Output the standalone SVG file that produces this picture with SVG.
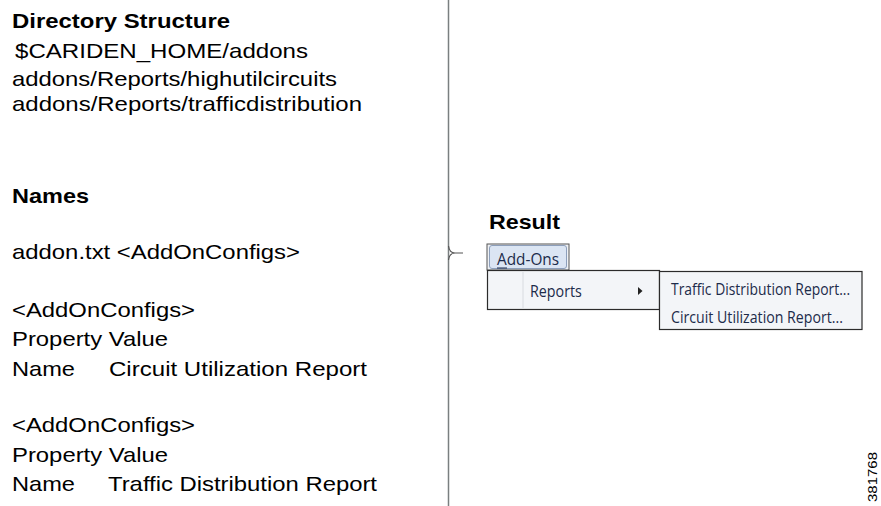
<svg xmlns="http://www.w3.org/2000/svg" width="881" height="506" viewBox="0 0 881 506">
  <style>
    .h { font-family: "Liberation Sans", Arial, sans-serif; font-size: 21px; font-weight: bold; fill: #000; }
    .t { font-family: "Liberation Sans", Arial, sans-serif; font-size: 21px; fill: #000; }
    .m { font-family: "Open Sans", "DejaVu Sans", sans-serif; font-size: 16.5px; fill: #1c2b4a; }
    .panel { fill: #f3f5f8; stroke: #2b2b2b; stroke-width: 1.2; }
  </style>
  <rect width="881" height="506" fill="#ffffff"/>

  <g id="connectors">
    <line x1="448.5" y1="0" x2="448.5" y2="506" stroke="#7a7f80" stroke-width="1.5"/>
    <path d="M448.5,246 Q449.5,253 455,253 L463,253 M448.5,260 Q449.5,253 455,253" fill="none" stroke="#555" stroke-width="1.2"/>
  </g>

  <g id="directory">
    <text class="h" x="12" y="27.5" textLength="218" lengthAdjust="spacingAndGlyphs">Directory Structure</text>
    <text class="t" x="15" y="58" textLength="293" lengthAdjust="spacingAndGlyphs">$CARIDEN_HOME/addons</text>
    <text class="t" x="12" y="86" textLength="325" lengthAdjust="spacingAndGlyphs">addons/Reports/highutilcircuits</text>
    <text class="t" x="12" y="110.5" textLength="350" lengthAdjust="spacingAndGlyphs">addons/Reports/trafficdistribution</text>
  </g>

  <g id="names">
    <text class="h" x="12" y="203" textLength="77" lengthAdjust="spacingAndGlyphs">Names</text>
    <text class="t" x="12" y="259" textLength="288" lengthAdjust="spacingAndGlyphs">addon.txt &lt;AddOnConfigs&gt;</text>
    <text class="t" x="12" y="316.5" textLength="183" lengthAdjust="spacingAndGlyphs">&lt;AddOnConfigs&gt;</text>
    <text class="t" x="12" y="346" textLength="156" lengthAdjust="spacingAndGlyphs">Property Value</text>
    <text class="t" x="12" y="375.5" textLength="63" lengthAdjust="spacingAndGlyphs">Name</text>
    <text class="t" x="109" y="375.5" textLength="258" lengthAdjust="spacingAndGlyphs">Circuit Utilization Report</text>
    <text class="t" x="12" y="432" textLength="183" lengthAdjust="spacingAndGlyphs">&lt;AddOnConfigs&gt;</text>
    <text class="t" x="12" y="461.5" textLength="156" lengthAdjust="spacingAndGlyphs">Property Value</text>
    <text class="t" x="12" y="490.5" textLength="63" lengthAdjust="spacingAndGlyphs">Name</text>
    <text class="t" x="108" y="490.5" textLength="269" lengthAdjust="spacingAndGlyphs">Traffic Distribution Report</text>
  </g>

  <g id="result">
    <text class="h" x="489" y="229" textLength="71" lengthAdjust="spacingAndGlyphs">Result</text>
  </g>

  <g id="menu-bar">
    <rect x="487" y="244" width="82" height="26" fill="#eef1f5" stroke="#555" stroke-width="1"/>
    <rect x="489.5" y="245.5" width="77" height="23" rx="2.5" fill="#dbe5f3" stroke="#8d9fbb" stroke-width="1"/>
    <text class="m" transform="translate(497 265) scale(0.85 1)" x="0" y="0" textLength="73" lengthAdjust="spacingAndGlyphs">Add-Ons</text>
    <line x1="497" y1="268" x2="507" y2="268" stroke="#1c2b4a" stroke-width="1"/>
  </g>

  <g id="dropdown">
    <rect class="panel" x="487.5" y="270.5" width="172" height="39"/>
    <line x1="523" y1="272" x2="523" y2="308" stroke="#d8dbe0" stroke-width="1"/>
    <text class="m" transform="translate(530 297) scale(0.85 1)" x="0" y="0" textLength="61" lengthAdjust="spacingAndGlyphs">Reports</text>
    <polygon points="638,287 642.5,291 638,295" fill="#222"/>
  </g>

  <g id="submenu">
    <rect class="panel" x="659.5" y="271.5" width="202.5" height="58"/>
    <text class="m" transform="translate(671 295) scale(0.845 1)" x="0" y="0" textLength="212" lengthAdjust="spacingAndGlyphs">Traffic Distribution Report...</text>
    <text class="m" transform="translate(671 323) scale(0.845 1)" x="0" y="0" textLength="203.5" lengthAdjust="spacingAndGlyphs">Circuit Utilization Report...</text>
  </g>

  <g id="figure-id">
    <text class="t" x="877" y="502" transform="rotate(-90 877 502)" style="font-size:13px" textLength="50" lengthAdjust="spacingAndGlyphs">381768</text>
  </g>
</svg>
